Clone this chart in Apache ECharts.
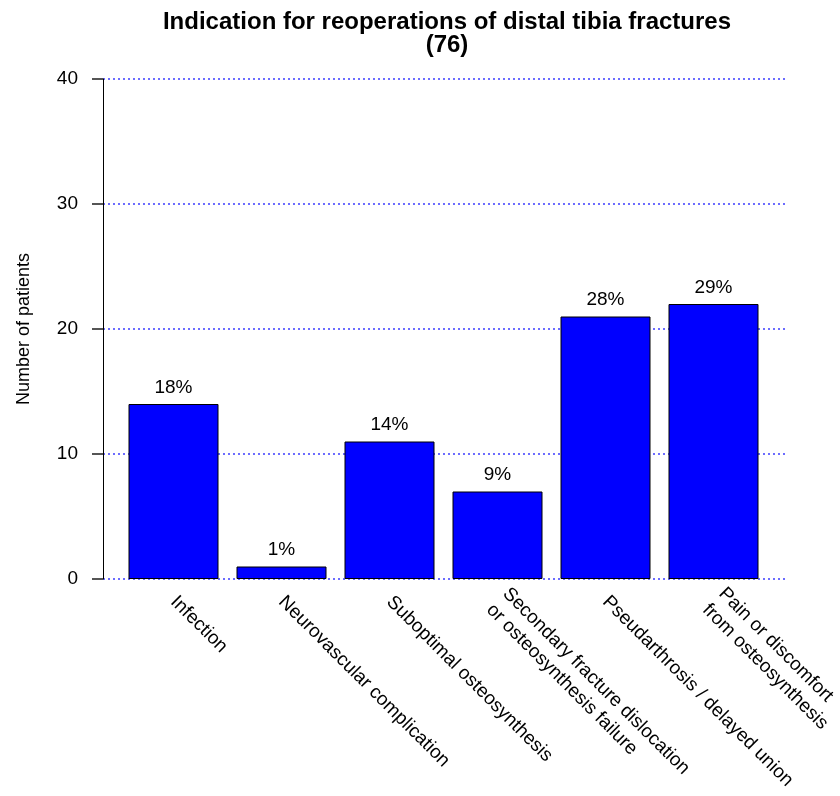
<!DOCTYPE html>
<html>
<head>
<meta charset="utf-8">
<script src="https://cdn.jsdelivr.net/npm/echarts@6/dist/echarts.min.js"></script>
<style>html,body{margin:0;padding:0;background:#fff;}#c{width:840px;height:796px;}</style>
</head>
<body>
<div id="c"></div>
<script>
var categories = [
  'Infection',
  'Neurovascular complication',
  'Suboptimal osteosynthesis',
  'Secondary fracture dislocation\nor osteosynthesis failure',
  'Pseudarthrosis / delayed union',
  'Pain or discomfort\nfrom osteosynthesis'
];
var patients = [14, 1, 11, 7, 21, 22];
var pctLabels = ['18%', '1%', '14%', '9%', '28%', '29%'];
var yTicks = [0, 10, 20, 30, 40];

var font = 'Liberation Sans, Arial, Helvetica, sans-serif';
var chart = echarts.init(document.getElementById('c'), null, {renderer: 'canvas'});
chart.setOption({
  animation: false,
  backgroundColor: '#ffffff',
  title: {
    text: 'Indication for reoperations of distal tibia fractures\n(76)',
    left: 442, top: 6, textAlign: 'center',
    textStyle: {fontFamily: font, fontSize: 24, fontWeight: 'bold', color: '#000', lineHeight: 23}
  },
  grid: [
    {left: 103, right: 55, top: 79, height: 500, containLabel: false, outerBoundsMode: 'none'},
    {left: 119.5, width: 648, top: 79, height: 500, containLabel: false, outerBoundsMode: 'none'}
  ],
  xAxis: [
    {gridIndex: 0, type: 'value', min: 0, max: 1, show: false},
    {gridIndex: 1, type: 'category', data: categories,
     axisLine: {show: false}, axisTick: {show: false},
     axisLabel: {interval: 0, rotate: -45, margin: 20, fontFamily: font, fontSize: 19, color: '#000', lineHeight: 23, align: 'left'}}
  ],
  yAxis: [
    {gridIndex: 0, type: 'value', min: 0, max: yTicks[yTicks.length-1], interval: 10,
     name: 'Number of patients', nameLocation: 'middle', nameGap: 70, nameRotate: 90,
     nameTextStyle: {fontFamily: font, fontSize: 18, color: '#000'},
     axisLine: {show: true, lineStyle: {color: '#000', width: 1}},
     axisTick: {show: true, length: 11, lineStyle: {color: '#555', width: 2}},
     axisLabel: {margin: 25, fontFamily: font, fontSize: 19, color: '#000'},
     splitLine: {show: true, lineStyle: {color: '#3b3bff', type: [2, 3], width: 1.5}}},
    {gridIndex: 1, type: 'value', min: 0, max: 40, show: false}
  ],
  series: [{
    type: 'bar', xAxisIndex: 1, yAxisIndex: 1,
    data: patients, barWidth: 90,
    itemStyle: {color: '#0000ff', borderColor: '#000', borderWidth: 1},
    label: {show: true, position: 'top', distance: 7, fontFamily: font, fontSize: 19, color: '#000',
            formatter: function(p){ return pctLabels[p.dataIndex]; }}
  }]
});
</script>
</body>
</html>
